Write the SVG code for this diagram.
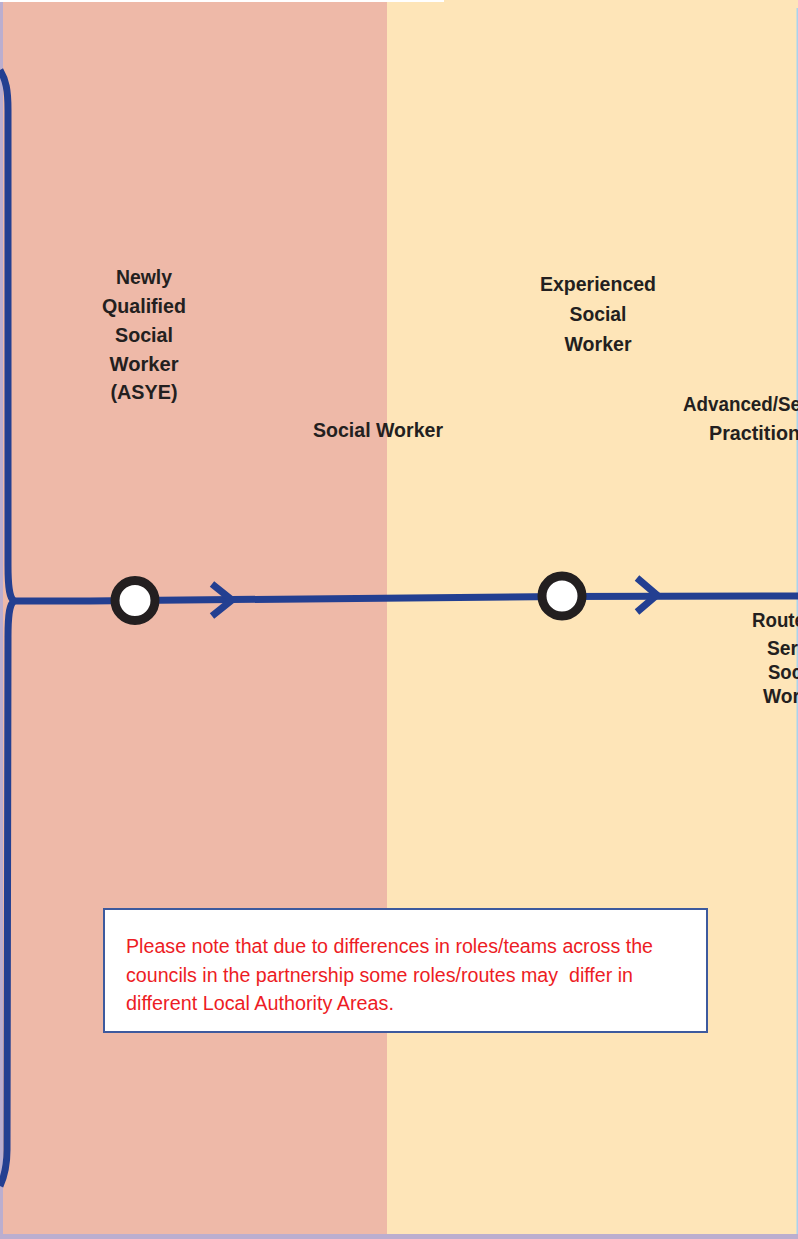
<svg xmlns="http://www.w3.org/2000/svg" width="798" height="1239" viewBox="0 0 798 1239">
  <style>
    .lbl { font-family: "Liberation Sans", Arial, sans-serif; font-weight: bold; font-size: 21px; fill: #231F20; }
    .c { text-anchor: middle; }
    .note { font-family: "Liberation Sans", Arial, sans-serif; font-size: 20px; fill: #ED1C24; }
    .route { fill: none; stroke: #233F91; stroke-width: 7; }
    .stop { fill: #FFFFFF; stroke: #231F20; stroke-width: 9; }
    .chev { fill: none; stroke: #233F91; stroke-width: 7; stroke-linejoin: miter; }
  </style>

  <g id="background">
    <rect x="0" y="0" width="798" height="1239" fill="#BBAECF"/>
    <rect x="3" y="2" width="384" height="1232" fill="#EEB9A8"/>
    <rect x="387" y="0" width="411" height="1234" fill="#FEE5B8"/>
    <rect x="0" y="0" width="444" height="2" fill="#FFFFFF"/>
    <rect x="796.5" y="8" width="1.5" height="1226" fill="#A9D3EE"/>
  </g>

  <g id="connectors">
    <path class="route" d="M 0 70 C 6 80 8 90 8 110 L 8 565 C 8 590 10 598 14 601 C 10 604 8 612 8 637 L 7 1150 C 7 1165 5 1175 0 1186"/>
    <path class="route" d="M 13 601 L 90 601 L 135 600.5 L 562 596.5 L 798 596"/>
    <polyline class="chev" points="212,584 232,600 212,616"/>
    <polyline class="chev" points="637,578 657,595 637,612"/>
  </g>

  <g id="node-nqsw">
    <circle class="stop" cx="135" cy="600.5" r="20"/>
    <text class="lbl c" x="144" y="284" textLength="56" lengthAdjust="spacingAndGlyphs">Newly</text>
    <text class="lbl c" x="144" y="313" textLength="84" lengthAdjust="spacingAndGlyphs">Qualified</text>
    <text class="lbl c" x="144" y="342" textLength="58" lengthAdjust="spacingAndGlyphs">Social</text>
    <text class="lbl c" x="144" y="371" textLength="69" lengthAdjust="spacingAndGlyphs">Worker</text>
    <text class="lbl c" x="144" y="399" textLength="67" lengthAdjust="spacingAndGlyphs">(ASYE)</text>
  </g>

  <g id="node-social-worker">
    <text class="lbl c" x="378" y="437" textLength="130" lengthAdjust="spacingAndGlyphs">Social Worker</text>
  </g>

  <g id="node-experienced">
    <circle class="stop" cx="562" cy="596" r="20"/>
    <text class="lbl c" x="598" y="291" textLength="116" lengthAdjust="spacingAndGlyphs">Experienced</text>
    <text class="lbl c" x="598" y="321" textLength="57" lengthAdjust="spacingAndGlyphs">Social</text>
    <text class="lbl c" x="598" y="351" textLength="67" lengthAdjust="spacingAndGlyphs">Worker</text>
  </g>

  <g id="node-advanced">
    <text class="lbl" x="683" y="411" textLength="118" lengthAdjust="spacingAndGlyphs">Advanced/Se</text>
    <text class="lbl" x="709" y="440" textLength="91" lengthAdjust="spacingAndGlyphs">Practition</text>
  </g>

  <g id="node-route-senior">
    <text class="lbl" x="752" y="627" textLength="53" lengthAdjust="spacingAndGlyphs">Route</text>
    <text class="lbl" x="767" y="655" textLength="31" lengthAdjust="spacingAndGlyphs">Ser</text>
    <text class="lbl" x="768" y="679" textLength="34" lengthAdjust="spacingAndGlyphs">Soc</text>
    <text class="lbl" x="763" y="703" textLength="37" lengthAdjust="spacingAndGlyphs">Wor</text>
  </g>

  <g id="note">
    <rect x="104" y="909" width="603" height="123" fill="#FFFFFF" stroke="#3D5A9E" stroke-width="2"/>
    <text class="note" x="126" y="953" textLength="527" lengthAdjust="spacingAndGlyphs">Please note that due to differences in roles/teams across the</text>
    <text class="note" x="126" y="982" textLength="507" lengthAdjust="spacingAndGlyphs" xml:space="preserve">councils in the partnership some roles/routes may  differ in</text>
    <text class="note" x="126" y="1010" textLength="268" lengthAdjust="spacingAndGlyphs">different Local Authority Areas.</text>
  </g>
</svg>
